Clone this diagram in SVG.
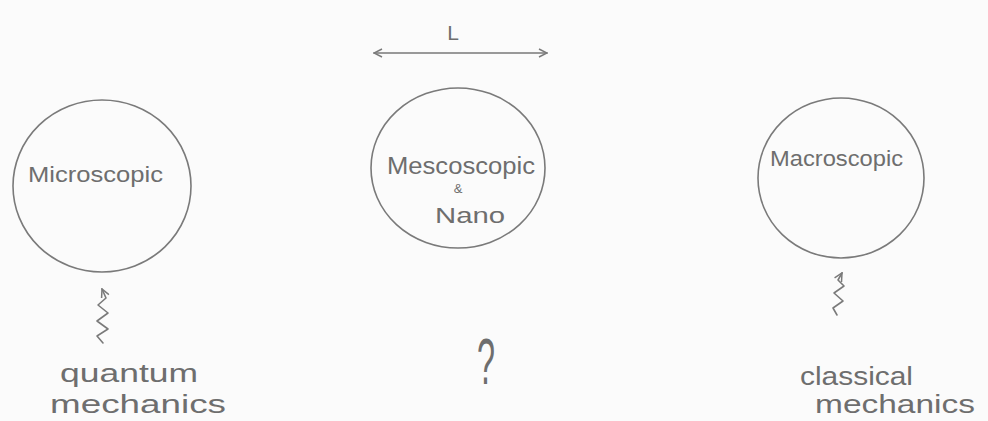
<svg xmlns="http://www.w3.org/2000/svg" width="988" height="421" viewBox="0 0 988 421">
<defs>
<style>
.pen{fill:none;stroke:#7a7a7a;stroke-width:1.6;stroke-linecap:round;stroke-linejoin:round}
.t{font-family:"Liberation Sans","DejaVu Sans",sans-serif;fill:#6e6e6e}
</style>
<marker id="op" viewBox="0 0 10 10" refX="9" refY="5" markerWidth="10" markerHeight="10" markerUnits="userSpaceOnUse" orient="auto-start-reverse">
<path d="M1,1 L9,5 L1,9" fill="none" stroke="#7a7a7a" stroke-width="1.5"/>
</marker>
</defs>
<rect width="988" height="421" fill="#fbfbfb"/>
<g id="micro">
<ellipse class="pen" cx="102" cy="186" rx="89" ry="86"/>
<text class="t" x="28" y="182" font-size="22" textLength="135" lengthAdjust="spacingAndGlyphs">Microscopic</text>
</g>
<g id="meso">
<ellipse class="pen" cx="458" cy="168" rx="87" ry="80"/>
<text class="t" x="387" y="174" font-size="23" textLength="148" lengthAdjust="spacingAndGlyphs">Mescoscopic</text>
<text class="t" x="458" y="193" font-size="13" text-anchor="middle">&amp;</text>
<text class="t" x="435" y="223" font-size="22" textLength="70" lengthAdjust="spacingAndGlyphs">Nano</text>
</g>
<g id="macro">
<ellipse class="pen" cx="841" cy="178" rx="83" ry="80"/>
<text class="t" x="770" y="166" font-size="22" textLength="133" lengthAdjust="spacingAndGlyphs">Macroscopic</text>
</g>
<g id="quantum">
<text class="t" x="60" y="382" font-size="26" textLength="138" lengthAdjust="spacingAndGlyphs">quantum</text>
<text class="t" x="50" y="413" font-size="26" textLength="176" lengthAdjust="spacingAndGlyphs">mechanics</text>
</g>
<g id="classical">
<text class="t" x="800" y="385" font-size="26" textLength="113" lengthAdjust="spacingAndGlyphs">classical</text>
<text class="t" x="815" y="413" font-size="26" textLength="160" lengthAdjust="spacingAndGlyphs">mechanics</text>
</g>
<g id="question">
<text class="t" x="477" y="384" font-size="64" font-weight="normal" textLength="18" lengthAdjust="spacingAndGlyphs">?</text>
</g>
<g id="L">
<text class="t" x="453" y="40" font-size="21" text-anchor="middle">L</text>
</g>
<g id="connectors">
<path class="pen" d="M374,53 L547,53" marker-start="url(#op)" marker-end="url(#op)"/>
<path class="pen" d="M103,343 L97,336 L108,329 L97,321 L108,313 L98,305 L106,298 L102,289" marker-end="url(#op)"/>
<path class="pen" d="M837,315 L833,308 L843,301 L834,293 L844,286 L838,280 L842,273" marker-end="url(#op)"/>
</g>
</svg>
